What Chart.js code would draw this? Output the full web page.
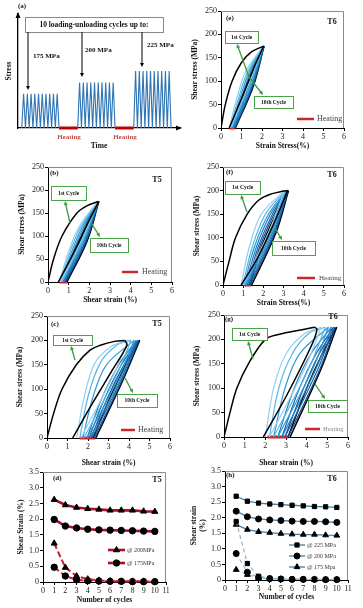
<!DOCTYPE html>
<html>
<head>
<meta charset="utf-8">
<script src="https://cdn.jsdelivr.net/npm/chart.js@4.4.1/dist/chart.umd.min.js"></script>
<style>
  body { margin: 0; background: #fff; width: 363px; height: 608px; position: relative; overflow: hidden; }
  canvas { position: absolute; }
</style>
</head>
<body>
<canvas id="pa"></canvas>
<canvas id="pe"></canvas>
<canvas id="pb"></canvas>
<canvas id="pf"></canvas>
<canvas id="pc"></canvas>
<canvas id="pg"></canvas>
<canvas id="pd"></canvas>
<canvas id="ph"></canvas>
<script>
'use strict'

/* ---------- data ---------- */

// (a) loading schedule: 10 cycles per block, heating between blocks
const aPeakStress = [175, 200, 225];
const aCyclesPerBlock = 10;
const aBlockStart = [1, 16, 31];
const aHeatWindows = [[11, 16], [26, 31]];
const aStressLabels = ['175 MPa', '200 MPa', '225 MPa'];

// hysteresis loops, [strain %, shear stress MPa]
// (e) T6 @175
const eFirst = [[0,0],[0.21,50],[0.54,100],[1.0,140],[1.5,163],[2.08,175],[1.62,130],[1.02,65],[0.4,0]];
const eLoops = [
  [[0.40,0],[0.75,60],[1.2,120],[2.05,175],[1.32,90],[0.45,0]],
  [[0.45,0],[0.83,60],[1.3,120],[2.06,175],[1.38,90],[0.5,0]],
  [[0.5,0],[0.9,60],[1.38,120],[2.07,175],[1.43,90],[0.55,0]],
  [[0.55,0],[0.97,60],[1.45,120],[2.08,175],[1.48,90],[0.6,0]],
  [[0.6,0],[1.03,60],[1.52,120],[2.09,175],[1.52,90],[0.65,0]],
  [[0.63,0],[1.08,60],[1.57,120],[2.1,175],[1.55,90],[0.68,0]]
];
const eLast = [[0.65,0],[1.12,60],[1.62,120],[2.1,175],[1.58,90],[0.7,0]];
const eHeat = [0.4, 0.7];

// (b) T5 @175
const bFirst = [[0,0],[0.27,50],[0.68,100],[1.4,150],[1.9,166],[2.45,175],[1.95,130],[1.2,60],[0.5,0]];
const bLoops = [
  [[0.55,0],[0.95,60],[1.5,120],[2.4,175],[1.62,90],[0.6,0]],
  [[0.6,0],[1.02,60],[1.58,120],[2.41,175],[1.67,90],[0.65,0]],
  [[0.65,0],[1.1,60],[1.66,120],[2.42,175],[1.72,90],[0.7,0]],
  [[0.7,0],[1.17,60],[1.74,120],[2.43,175],[1.77,90],[0.76,0]],
  [[0.76,0],[1.24,60],[1.81,120],[2.44,175],[1.82,90],[0.82,0]],
  [[0.8,0],[1.3,60],[1.86,120],[2.45,175],[1.86,90],[0.86,0]]
];
const bLast = [[0.85,0],[1.36,60],[1.92,120],[2.46,175],[1.9,90],[0.92,0]];
const bHeat = [0.55, 0.95];

// (f) T6 @200
const fFirst = [[0,0],[0.3,50],[0.62,100],[1.2,150],[1.78,180],[2.4,193],[3.0,199],[3.2,200],[2.62,140],[1.75,60],[0.9,0]];
const fLoops = [
  [[0.9,0],[1.3,80],[1.9,150],[3.05,200],[2.25,110],[0.98,0]],
  [[0.98,0],[1.45,80],[2.1,150],[3.1,200],[2.33,110],[1.05,0]],
  [[1.05,0],[1.55,80],[2.25,150],[3.15,200],[2.4,110],[1.12,0]],
  [[1.12,0],[1.65,80],[2.35,150],[3.18,200],[2.46,110],[1.2,0]],
  [[1.2,0],[1.74,80],[2.45,150],[3.2,200],[2.52,110],[1.28,0]],
  [[1.28,0],[1.82,80],[2.53,150],[3.22,200],[2.57,110],[1.35,0]]
];
const fLast = [[1.33,0],[1.9,80],[2.62,150],[3.25,200],[2.62,110],[1.42,0]];
const fHeat = [1.0, 1.4];

// (c) T5 @200
const cFirst = [[0,0],[0.32,50],[0.73,100],[1.43,150],[2.1,180],[2.6,190],[3.3,198],[3.8,200],[3.9,190],[3.2,140],[2.2,70],[1.25,0]];
const cLoops = [
  [[1.45,0],[1.82,85],[2.34,154],[3.15,188],[3.95,200],[3.2,125],[1.65,0]],
  [[1.6,0],[2.0,85],[2.6,154],[3.4,190],[4.1,200],[3.35,125],[1.8,0]],
  [[1.75,0],[2.25,85],[2.9,150],[4.25,200],[3.45,120],[1.95,0]],
  [[1.95,0],[2.66,80],[3.5,150],[4.35,200],[3.55,120],[2.1,0]],
  [[2.05,0],[2.8,80],[3.63,150],[4.42,200],[3.62,120],[2.2,0]],
  [[2.15,0],[2.93,80],[3.75,150],[4.48,200],[3.68,120],[2.3,0]]
];
const cLast = [[2.25,0],[3.04,80],[3.83,150],[4.52,200],[3.72,120],[2.38,0]];
const cHeat = [1.6, 2.35];

// (g) T6 @225
const gFirst = [[0,0],[0.29,50],[0.62,100],[1.18,150],[2.0,200],[2.64,210],[3.78,220],[4.4,225],[4.5,220],[4.24,188],[3.03,85],[1.9,0]];
const gLoops = [
  [[2.0,0],[2.4,100],[3.0,170],[3.84,210],[4.7,225],[3.9,140],[2.2,0]],
  [[2.2,0],[2.65,100],[3.3,170],[4.1,212],[4.9,225],[4.1,140],[2.4,0]],
  [[2.4,0],[2.95,100],[3.65,170],[5.05,225],[4.3,140],[2.6,0]],
  [[2.6,0],[3.4,100],[4.2,170],[5.2,225],[4.45,140],[2.8,0]],
  [[2.8,0],[3.65,100],[4.45,170],[5.3,225],[4.55,140],[2.95,0]],
  [[2.95,0],[3.85,100],[4.6,170],[5.38,225],[4.65,140],[3.1,0]]
];
const gLast = [[3.1,0],[4.0,100],[4.75,170],[5.45,225],[4.7,140],[3.2,0]];
const gHeat = [2.1, 3.1];

// (d) T5 strain vs cycles
const cycleNo = [1, 2, 3, 4, 5, 6, 7, 8, 9, 10];
const d200Total = [2.62, 2.45, 2.37, 2.33, 2.31, 2.28, 2.28, 2.28, 2.25, 2.24];
const d175Total = [1.99, 1.78, 1.72, 1.68, 1.66, 1.65, 1.64, 1.63, 1.62, 1.61];
const d200Resid = [1.23, 0.46, 0.19, 0.09, 0.05, 0.03, 0.02, 0.02, 0.02, 0.01];
const d175Resid = [0.47, 0.19, 0.07, 0.04, 0.03, 0.02, 0.02, 0.01, 0.01, 0.01];

// (h) T6 strain vs cycles
const h225Total = [2.69, 2.53, 2.47, 2.44, 2.42, 2.40, 2.38, 2.36, 2.35, 2.33];
const h200Total = [2.21, 2.03, 1.96, 1.93, 1.91, 1.89, 1.88, 1.88, 1.87, 1.85];
const h175Total = [1.78, 1.62, 1.55, 1.52, 1.49, 1.47, 1.46, 1.46, 1.44, 1.43];
const h225Resid = [1.88, 0.53, 0.12, 0.06, 0.04, 0.03, 0.03, 0.02, 0.02, 0.02];
const h200Resid = [0.85, 0.25, 0.08, 0.04, 0.03, 0.02, 0.02, 0.02, 0.01, 0.01];
const h175Resid = [0.33, 0.17, 0.07, 0.04, 0.03, 0.02, 0.02, 0.01, 0.01, 0.01];

/* ---------- style ---------- */
const SERIF = "'Liberation Serif', 'DejaVu Serif', serif";
const loopBlues = ['#8fd0f2', '#58b6e6', '#2c9ad8', '#1e7fc4', '#1764ab', '#0f4a90'];
const heatRed = '#c8282d';
const boxGreen = '#4aa44a';

function fontStr(size, bold) { return (bold ? 'bold ' : '') + size + 'px ' + SERIF; }

function arrow(ctx, x1, y1, x2, y2, color, w, head) {
  const ang = Math.atan2(y2 - y1, x2 - x1);
  ctx.save();
  ctx.strokeStyle = color; ctx.fillStyle = color; ctx.lineWidth = w;
  ctx.beginPath(); ctx.moveTo(x1, y1);
  ctx.lineTo(x2 - head * 0.7 * Math.cos(ang), y2 - head * 0.7 * Math.sin(ang));
  ctx.stroke();
  ctx.beginPath();
  ctx.moveTo(x2, y2);
  ctx.lineTo(x2 - head * Math.cos(ang - 0.45), y2 - head * Math.sin(ang - 0.45));
  ctx.lineTo(x2 - head * Math.cos(ang + 0.45), y2 - head * Math.sin(ang + 0.45));
  ctx.closePath(); ctx.fill();
  ctx.restore();
}

// annotations, given in page pixels
function notesPlugin(box, notes) {
  return {
    id: 'notes',
    afterDraw(chart) {
      const ctx = chart.ctx, ox = box.l, oy = box.t, a = chart.chartArea;
      if (notes.frame) {
        ctx.save(); ctx.strokeStyle = '#8a8a8a'; ctx.lineWidth = 1;
        ctx.beginPath(); ctx.moveTo(a.left, a.top + 0.5); ctx.lineTo(a.right - 0.5, a.top + 0.5); ctx.lineTo(a.right - 0.5, a.bottom); ctx.stroke();
        ctx.restore();
      }
      (notes.boxes || []).forEach(b => {
        ctx.save();
        ctx.fillStyle = '#fff'; ctx.strokeStyle = b.border || boxGreen; ctx.lineWidth = 1;
        ctx.fillRect(b.x - ox, b.y - oy, b.w, b.h);
        ctx.strokeRect(b.x - ox + 0.5, b.y - oy + 0.5, b.w, b.h);
        ctx.fillStyle = '#111'; ctx.font = fontStr(b.size || 5.5, true);
        ctx.textAlign = 'center'; ctx.textBaseline = 'middle';
        ctx.fillText(b.t, b.x - ox + b.w / 2, b.y - oy + b.h / 2 + 0.5);
        ctx.restore();
      });
      (notes.arrows || []).forEach(r => arrow(ctx, r[0] - ox, r[1] - oy, r[2] - ox, r[3] - oy, notes.arrowColor || '#3f9b3f', notes.arrowWidth || 1.3, 4.5));
      (notes.texts || []).forEach(t => {
        ctx.save();
        ctx.font = fontStr(t.size, t.bold); ctx.fillStyle = t.color || '#111';
        ctx.textAlign = t.align || 'left'; ctx.textBaseline = 'middle';
        ctx.fillText(t.t, t.x - ox, t.y - oy);
        ctx.restore();
      });
      (notes.keys || []).forEach(k => {
        ctx.save();
        ctx.strokeStyle = k.color; ctx.lineWidth = k.width || 2.5;
        ctx.beginPath(); ctx.moveTo(k.x1 - ox, k.y - oy); ctx.lineTo(k.x2 - ox, k.y - oy); ctx.stroke();
        if (k.marker) {
          ctx.fillStyle = '#000'; ctx.strokeStyle = '#000'; ctx.lineWidth = 1;
          Chart.helpers.drawPoint(ctx, { pointStyle: k.marker, radius: k.radius || 3, rotation: 0, borderWidth: 1 }, (k.x1 + k.x2) / 2 - ox, k.y - oy);
        }
        ctx.font = fontStr(k.size || 6, false); ctx.fillStyle = k.textColor || '#333';
        ctx.textAlign = 'left'; ctx.textBaseline = 'middle';
        ctx.fillText(k.t, k.tx - ox, k.y - oy);
        ctx.restore();
      });
      if (notes.after) notes.after(ctx, chart);
    }
  };
}

function scaleSet(box, plot, xs, ys) {
  const bottomEdge = box.t + box.h;
  const showTicks = xs.ticks !== false;
  return {
    x: {
      type: 'linear', min: xs.min, max: xs.max,
      ticks: { display: showTicks, stepSize: xs.step, autoSkip: false, maxRotation: 0, padding: xs.tickPad || 1, color: '#222', font: { family: SERIF, size: 8 } },
      grid: { display: showTicks, drawOnChartArea: false, tickLength: 3, color: '#000' },
      border: { color: '#000', width: 1 },
      title: { display: true, text: xs.title, color: '#111', font: { family: SERIF, size: 7.5, weight: 'bold' }, padding: { top: 0, bottom: bottomEdge - xs.titleY - 4.5 } },
      afterFit(s) { s.height = bottomEdge - plot.b; }
    },
    y: {
      type: 'linear', min: ys.min, max: ys.max,
      ticks: { display: showTicks, stepSize: ys.step, autoSkip: false, padding: 1, color: '#222', font: { family: SERIF, size: 8 } },
      grid: { display: showTicks, drawOnChartArea: false, tickLength: 3, color: '#000' },
      border: { color: '#000', width: 1 },
      title: { display: true, text: ys.title, color: '#111', font: { family: SERIF, size: 7.5, weight: 'bold' }, padding: { top: ys.titleX - box.l - 4.5, bottom: 0 } },
      afterFit(s) { s.width = plot.l - box.l; }
    }
  };
}

function makeChart(id, box, plot, scales, datasets, notes) {
  const cv = document.getElementById(id);
  cv.width = box.w; cv.height = box.h;
  cv.style.left = box.l + 'px'; cv.style.top = box.t + 'px';
  return new Chart(cv.getContext('2d'), {
    type: 'scatter',
    data: { datasets: datasets },
    options: {
      animation: false, responsive: false, maintainAspectRatio: false, devicePixelRatio: 1,
      events: [],
      layout: { padding: { left: 0, bottom: 0, top: plot.t - box.t, right: box.l + box.w - plot.r } },
      plugins: { legend: { display: false }, tooltip: { enabled: false } },
      scales: scales
    },
    plugins: [notesPlugin(box, notes)]
  });
}

const xy = pts => pts.map(p => ({ x: p[0], y: p[1] }));

function loopSets(first, loops, last, heat) {
  const sets = [];
  const add = (pts, color, w) => {
    // split at the tip so the peak stays sharp
    let k = 0;
    pts.forEach((p, i) => { if (p[1] > pts[k][1]) k = i; });
    [pts.slice(0, k + 1), pts.slice(k)].forEach(seg => sets.push({
      data: xy(seg), showLine: true, borderColor: color, borderWidth: w, pointRadius: 0, tension: 0.35
    }));
  };
  add(first, '#000', 1.5);
  loops.forEach((l, i) => add(l, loopBlues[i], 1.2));
  add(last, '#000', 1.5);
  sets.push({ data: heat.map(x => ({ x: x, y: 0 })), showLine: true, borderColor: heatRed, borderWidth: 3, pointRadius: 0, clip: false });
  return sets;
}

function loopPanel(id, box, plot, xTitle, xTitleY, yTitleX, first, loops, last, heat, notes) {
  notes.frame = true;
  makeChart(id, box, plot,
    scaleSet(box, plot,
      { min: 0, max: 6, step: 1, title: xTitle, titleY: xTitleY },
      { min: 0, max: 250, step: 50, title: 'Shear stress (MPa)', titleX: yTitleX }),
    loopSets(first, loops, last, heat), notes);
}

/* ---------- (a) schematic ---------- */
(function () {
  const box = { l: 0, t: 0, w: 182, h: 152 };
  const plot = { l: 18, t: 14, r: 180, b: 128 };
  const yMin = 100;
  const sets = [];
  aBlockStart.forEach((s, i) => {
    const pts = [];
    for (let k = 0; k < aCyclesPerBlock; k++) pts.push([s + k, yMin], [s + k + 0.5, aPeakStress[i]]);
    pts.push([s + aCyclesPerBlock, yMin]);
    sets.push({ data: xy(pts), showLine: true, borderColor: '#2e75b6', borderWidth: 1.1, pointRadius: 0 });
  });
  aHeatWindows.forEach(w => sets.push({ data: xy([[w[0], yMin], [w[1], yMin]]), showLine: true, borderColor: '#c00000', borderWidth: 3, pointRadius: 0, clip: false }));
  const sc = scaleSet(box, plot,
    { min: 0, max: 43.4, title: 'Time', titleY: 146, ticks: false },
    { min: yMin, max: 350, title: 'Stress', titleX: 9 });
  sc.x.border.width = 1.3; sc.y.border.width = 1.3;
  makeChart('pa', box, plot, sc, sets, {
    texts: [
      { t: '(a)', x: 18, y: 6, size: 7, bold: true },
      { t: aStressLabels[0], x: 33, y: 56, size: 7, bold: true },
      { t: aStressLabels[1], x: 85, y: 50, size: 7, bold: true },
      { t: aStressLabels[2], x: 147, y: 45, size: 7, bold: true },
      { t: 'Heating', x: 69, y: 137, size: 7, bold: true, color: '#c0504d', align: 'center' },
      { t: 'Heating', x: 125, y: 137, size: 7, bold: true, color: '#c0504d', align: 'center' }
    ],
    arrows: [[28, 32, 28, 90], [82, 32, 82, 77], [142, 32, 142, 67]],
    arrowColor: '#000', arrowWidth: 1,
    boxes: [{ x: 25, y: 17, w: 138, h: 15, t: '10 loading-unloading cycles up to:', border: '#8a8a8a', size: 7.5 }],
    after(ctx, chart) {
      const a = chart.chartArea;
      ctx.save(); ctx.fillStyle = '#000';
      ctx.beginPath(); ctx.moveTo(a.left, a.top - 2); ctx.lineTo(a.left - 2.5, a.top + 4); ctx.lineTo(a.left + 2.5, a.top + 4); ctx.closePath(); ctx.fill();
      ctx.beginPath(); ctx.moveTo(a.right + 2, a.bottom); ctx.lineTo(a.right - 4, a.bottom - 2.5); ctx.lineTo(a.right - 4, a.bottom + 2.5); ctx.closePath(); ctx.fill();
      ctx.restore();
    }
  });
})();

/* ---------- loop panels ---------- */
loopPanel('pe', { l: 182, t: 0, w: 181, h: 154 }, { l: 221, t: 11, r: 344, b: 128 }, 'Strain Stress(%)', 146, 195,
  eFirst, eLoops, eLast, eHeat, {
    texts: [{ t: '(e)', x: 226, y: 18, size: 7, bold: true }, { t: 'T6', x: 332, y: 22, size: 8, bold: true, align: 'center' }],
    boxes: [{ x: 225, y: 31, w: 33, h: 12, t: '1st Cycle' }, { x: 254, y: 96, w: 39, h: 12, t: '10th Cycle' }],
    arrows: [[249, 77, 237, 44], [249, 77, 263, 95]],
    keys: [{ x1: 297, x2: 314, y: 119, color: heatRed, t: 'Heating', tx: 317, size: 8, textColor: '#444' }]
  });

loopPanel('pb', { l: 0, t: 150, w: 182, h: 160 }, { l: 48, t: 167, r: 172, b: 282 }, 'Shear strain (%)', 300, 22,
  bFirst, bLoops, bLast, bHeat, {
    texts: [{ t: '(b)', x: 50, y: 173, size: 7, bold: true }, { t: 'T5', x: 157, y: 180, size: 8, bold: true, align: 'center' }],
    boxes: [{ x: 51, y: 186, w: 35, h: 14, t: '1st Cycle' }, { x: 90, y: 238, w: 38, h: 14, t: '10th Cycle' }],
    arrows: [[70, 223, 65, 201], [92, 224, 100, 237]],
    keys: [{ x1: 122, x2: 138, y: 272, color: heatRed, t: 'Heating', tx: 142, size: 8, textColor: '#444' }]
  });

loopPanel('pf', { l: 182, t: 150, w: 181, h: 160 }, { l: 223, t: 167, r: 344, b: 285 }, 'Strain Stress(%)', 303, 197,
  fFirst, fLoops, fLast, fHeat, {
    texts: [{ t: '(f)', x: 226, y: 172, size: 7, bold: true }, { t: 'T6', x: 332, y: 175, size: 8, bold: true, align: 'center' }],
    boxes: [{ x: 225, y: 181, w: 35, h: 13, t: '1st Cycle' }, { x: 272, y: 241, w: 43, h: 14, t: '10th Cycle' }],
    arrows: [[247, 212, 241, 195], [275, 228, 282, 240]],
    keys: [{ x1: 297, x2: 315, y: 278, color: heatRed, t: 'Heating', tx: 319, size: 7, textColor: '#444' }]
  });

loopPanel('pc', { l: 0, t: 300, w: 182, h: 172 }, { l: 47, t: 316, r: 170, b: 438 }, 'Shear strain (%)', 463, 20,
  cFirst, cLoops, cLast, cHeat, {
    texts: [{ t: '(c)', x: 51, y: 324, size: 7, bold: true }, { t: 'T5', x: 157, y: 324, size: 8, bold: true, align: 'center' }],
    boxes: [{ x: 53, y: 335, w: 39, h: 10, t: '1st Cycle' }, { x: 117, y: 394, w: 40, h: 13, t: '10th Cycle' }],
    arrows: [[75, 360, 71, 346], [125, 378, 133, 393]],
    keys: [{ x1: 121, x2: 135, y: 430, color: heatRed, t: 'Heating', tx: 138, size: 8, textColor: '#444' }]
  });

loopPanel('pg', { l: 182, t: 300, w: 181, h: 172 }, { l: 224, t: 315, r: 348, b: 437 }, 'Shear strain (%)', 463, 197,
  gFirst, gLoops, gLast, gHeat, {
    texts: [{ t: '(g)', x: 225, y: 319, size: 7, bold: true }, { t: 'T6', x: 333, y: 317, size: 8, bold: true, align: 'center' }],
    boxes: [{ x: 232, y: 328, w: 35, h: 12, t: '1st Cycle' }, { x: 308, y: 400, w: 39, h: 12, t: '10th Cycle' }],
    arrows: [[253, 359, 248, 341], [315, 384, 325, 399]],
    keys: [{ x1: 305, x2: 320, y: 429, color: heatRed, t: 'Heating', tx: 323, size: 6.5, textColor: '#888' }]
  });

/* ---------- strain vs cycles ---------- */
function seriesSet(vals, color, width, dash, marker, radius) {
  return {
    data: cycleNo.map((c, i) => ({ x: c, y: vals[i] })),
    showLine: true, borderColor: color, borderWidth: width, borderDash: dash,
    pointStyle: marker, pointRadius: radius, pointBackgroundColor: '#000', pointBorderColor: '#000', pointBorderWidth: 1,
    clip: false
  };
}

(function () {
  const box = { l: 0, t: 462, w: 182, h: 146 };
  const plot = { l: 43, t: 472, r: 166, b: 582 };
  const solid = '#a8102a', dashed = '#c4202f';
  makeChart('pd', box, plot,
    scaleSet(box, plot,
      { min: 0, max: 11, step: 1, title: 'Number of cycles', titleY: 600, tickPad: 1 },
      { min: 0, max: 3.5, step: 0.5, title: 'Shear Strain (%)', titleX: 21 }),
    [
      seriesSet(d200Resid, dashed, 2, [6, 3], 'triangle', 3.5),
      seriesSet(d175Resid, dashed, 2, [6, 3], 'circle', 3.2),
      seriesSet(d200Total, solid, 2.6, [], 'triangle', 3.5),
      seriesSet(d175Total, solid, 2.6, [], 'circle', 3.2)
    ], {
      frame: true,
      texts: [{ t: '(d)', x: 53, y: 478, size: 7, bold: true }, { t: 'T5', x: 157, y: 480, size: 8, bold: true, align: 'center' }],
      keys: [
        { x1: 108, x2: 125, y: 550, color: solid, width: 2.6, marker: 'triangle', radius: 3.5, t: '@ 200MPa', tx: 127, size: 6 },
        { x1: 108, x2: 125, y: 563, color: solid, width: 2.6, marker: 'circle', radius: 3.2, t: '@ 175MPa', tx: 127, size: 6 }
      ]
    });
})();

(function () {
  const box = { l: 182, t: 462, w: 181, h: 146 };
  const plot = { l: 225, t: 471, r: 348, b: 580 };
  const solid = '#3f7fa8', dashed = '#8fb5cc';
  makeChart('ph', box, plot,
    scaleSet(box, plot,
      { min: 0, max: 11, step: 1, title: 'Number of cycles', titleY: 597 },
      { min: 0, max: 3.5, step: 0.5, title: ['Shear strain', '(%)'], titleX: 194 }),
    [
      seriesSet(h225Resid, dashed, 1.2, [4, 3], 'rect', 3),
      seriesSet(h200Resid, dashed, 1.2, [4, 3], 'circle', 3),
      seriesSet(h175Resid, dashed, 1.2, [4, 3], 'triangle', 3.3),
      seriesSet(h225Total, solid, 1.3, [], 'rect', 3),
      seriesSet(h200Total, solid, 1.3, [], 'circle', 3),
      seriesSet(h175Total, solid, 1.3, [], 'triangle', 3.3)
    ], {
      frame: true,
      texts: [{ t: '(h)', x: 226, y: 475, size: 7, bold: true }, { t: 'T6', x: 332, y: 479, size: 8, bold: true, align: 'center' }],
      keys: [
        { x1: 289, x2: 305, y: 545, color: solid, width: 1.3, marker: 'rect', radius: 3, t: '@ 225 MPa', tx: 307, size: 6 },
        { x1: 289, x2: 305, y: 556, color: solid, width: 1.3, marker: 'circle', radius: 3, t: '@ 200 MPa', tx: 307, size: 6 },
        { x1: 289, x2: 305, y: 567, color: solid, width: 1.3, marker: 'triangle', radius: 3.3, t: '@ 175 Mpa', tx: 307, size: 6 }
      ]
    });
})();
</script>
</body>
</html>
